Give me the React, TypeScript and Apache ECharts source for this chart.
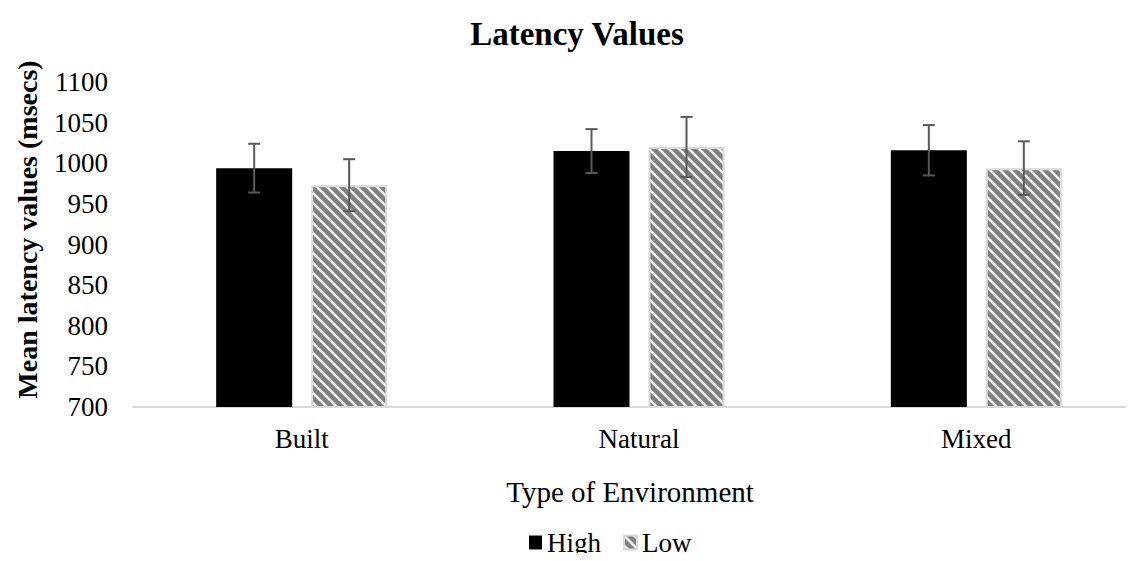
import React, { useEffect, useRef } from "react";
import * as echarts from "echarts";

const categories = ["Built", "Natural", "Mixed"];
const highValues = [994, 1015, 1016];
const lowValues = [973, 1020, 994];
const highErrors = [30, 27, 31];
const lowErrors = [32, 37, 33];
const yTicks = { min: 700, max: 1100, interval: 50 };

const FONT = "Liberation Serif";
const BAR_W = 76;
const BAR_GAP = 19;

function makeStripeCanvas() {
  const s = 10;
  const c = document.createElement("canvas");
  c.width = s;
  c.height = s;
  const ctx = c.getContext("2d")!;
  ctx.fillStyle = "#7f7f7f";
  ctx.fillRect(0, 0, s, s);
  ctx.strokeStyle = "#f2f2f2";
  ctx.lineWidth = 2.6;
  for (let k = -1; k <= 1; k++) {
    ctx.beginPath();
    ctx.moveTo(k * s - 1, -1);
    ctx.lineTo(k * s + s + 1, s + 1);
    ctx.stroke();
  }
  return c;
}

function errorSeries(name: string, values: number[], errors: number[], offset: number) {
  return {
    type: "custom",
    name: name + " error",
    z: 10,
    silent: true,
    encode: { x: 0, y: [1, 2] },
    data: values.map((v, i) => [i, v - errors[i], v + errors[i]]),
    renderItem: (params: any, api: any) => {
      const idx = api.value(0);
      const lo = api.coord([idx, api.value(1)]);
      const hi = api.coord([idx, api.value(2)]);
      const x = lo[0] + offset;
      const cap = 6;
      const style = { stroke: "#595959", lineWidth: 2 };
      return {
        type: "group",
        children: [
          { type: "line", shape: { x1: x, y1: hi[1], x2: x, y2: lo[1] }, style },
          { type: "line", shape: { x1: x - cap, y1: hi[1], x2: x + cap, y2: hi[1] }, style },
          { type: "line", shape: { x1: x - cap, y1: lo[1], x2: x + cap, y2: lo[1] }, style },
        ],
      };
    },
  };
}

export default function App() {
  const ref = useRef<HTMLDivElement>(null);
  useEffect(() => {
    if (!ref.current) return;
    const chart = echarts.init(ref.current, undefined, { renderer: "svg" });
    const half = (BAR_W + BAR_GAP) / 2;
    const stripe = makeStripeCanvas();
    const stripeFill: any = {
      image: stripe.toDataURL(),
      repeat: "repeat",
      imageWidth: stripe.width,
      imageHeight: stripe.height,
    };
    chart.setOption({
      animation: false,
      textStyle: { fontFamily: FONT },
      title: {
        text: "Latency Values",
        left: 572,
        textAlign: "center",
        top: 12,
        textStyle: { fontFamily: FONT, fontSize: 33, fontWeight: "bold", color: "#000" },
      },
      legend: {
        bottom: 0,
        left: 524,
        itemWidth: 13,
        itemHeight: 14,
        itemGap: 22,
        icon: "rect",
        textStyle: { fontFamily: FONT, fontSize: 27, color: "#000" },
        data: ["High", "Low"],
      },
      grid: { left: 133, top: 82, width: 1012, height: 325, containLabel: false },
      xAxis: {
        type: "category",
        data: categories,
        name: "Type of Environment",
        nameLocation: "middle",
        nameGap: 70,
        nameTextStyle: { fontFamily: FONT, fontSize: 29, color: "#000", padding: [0, 18, 0, 0] },
        axisLine: { lineStyle: { color: "#d9d9d9", width: 2 } },
        axisTick: { show: false },
        axisLabel: { fontFamily: FONT, fontSize: 27, color: "#000", margin: 18 },
      },
      yAxis: {
        type: "value",
        min: yTicks.min,
        max: yTicks.max,
        interval: yTicks.interval,
        name: "Mean latency values (msecs)",
        nameLocation: "middle",
        nameGap: 92,
        nameTextStyle: { fontFamily: FONT, fontSize: 28, fontWeight: "bold", color: "#000", padding: [0, 0, 0, 30] },
        axisLine: { show: false },
        axisTick: { show: false },
        splitLine: { show: false },
        axisLabel: {
          fontFamily: FONT,
          fontSize: 27,
          color: "#000",
          margin: 25,
          formatter: (v: number) => String(v),
        },
      },
      series: [
        {
          type: "bar",
          name: "High",
          data: highValues,
          barWidth: BAR_W,
          barGap: (BAR_GAP / BAR_W) * 100 + "%",
          itemStyle: { color: "#000000" },
        },
        {
          type: "bar",
          name: "Low",
          data: lowValues,
          barWidth: BAR_W,
          itemStyle: {
            color: stripeFill,
            borderColor: "#d9d9d9",
            borderWidth: 2,
          },
        },
        errorSeries("High", highValues, highErrors, -half),
        errorSeries("Low", lowValues, lowErrors, half),
      ],
    });
    return () => chart.dispose();
  }, []);
  return (
    <div style={{ width: 1134, height: 561, margin: -8, overflow: "hidden", position: "relative", background: "#fff" }}>
      <div ref={ref} style={{ width: 1160, height: 561 }} />
    </div>
  );
}
